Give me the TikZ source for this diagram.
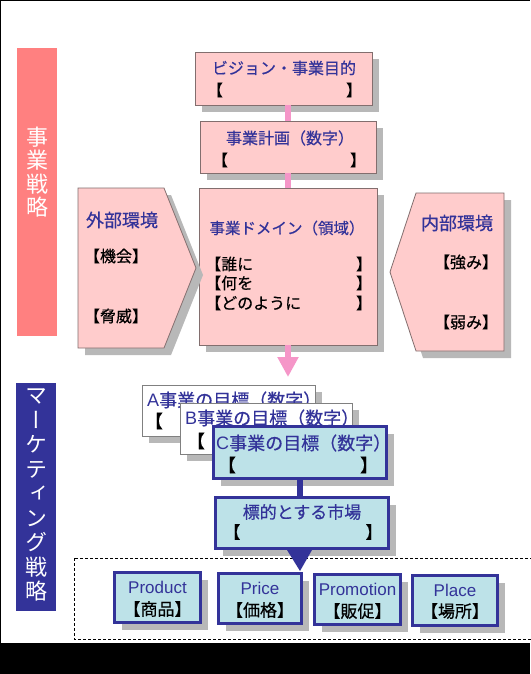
\documentclass[tikz,border=0pt]{standalone}
\usepackage{fontspec}
\setmainfont{Liberation Sans}
\newfontfamily\jp[FakeBold=0.5]{Noto Sans CJK JP}
\newfontfamily\jpv[RawFeature=+vert]{Noto Sans CJK JP}
\newfontfamily\latf{Liberation Sans}
\usetikzlibrary{shadows,arrows.meta}
\definecolor{pinkfill}{RGB}{255,204,204}
\definecolor{pinkline}{RGB}{130,110,110}
\definecolor{pinkbar}{RGB}{255,128,128}
\definecolor{pinkconn}{RGB}{245,150,200}
\definecolor{navy}{RGB}{51,51,153}
\definecolor{lightblue}{RGB}{189,226,232}
\definecolor{shadowgray}{RGB}{184,184,184}
\begin{document}
\begin{tikzpicture}[x=1pt,y=-1pt,
  shad/.style={drop shadow={shadow xshift=7pt,shadow yshift=-7pt,fill=shadowgray,opacity=1}},
  sz/.style 2 args={minimum width=#1pt,minimum height=#2pt},
  pinkbox/.style={shad,draw=pinkline,fill=pinkfill,line width=0.8pt,inner sep=0pt},
  pinkshape/.style={shad,draw=pinkline,fill=pinkfill,line width=0.8pt},
  whitebox/.style={shad,draw=gray,fill=white,line width=0.8pt,inner sep=0pt},
  bluebox/.style={shad,draw=navy,fill=lightblue,line width=3pt,inner sep=0pt},
  f15/.style={font=\jp\fontsize{15.5}{18}\selectfont},
  f16/.style={font=\jp\fontsize{16}{19}\selectfont},
  f17/.style={font=\jp\fontsize{17}{20}\selectfont},
  f18/.style={font=\jp\fontsize{18}{21}\selectfont},
  ttl/.style={inner sep=0pt,text=navy,f16},
  blk/.style={inner sep=0pt,text=black,f16},
  lat/.style={inner sep=0pt,text=navy,font=\latf\fontsize{17}{20}\selectfont},
  vtext/.style={inner sep=0pt,text=white,align=center},
  conn/.style={line width=5.5pt},
]
\useasboundingbox (0,0) rectangle (530,674);
\fill[white] (0,0) rectangle (530,674);

% side bars
\node[fill=pinkbar,inner sep=0pt,sz={40}{288}] (bar1) at (37,192) {};
\node[vtext,font=\jpv\fontsize{22}{23.5}\selectfont] (bar1t) at (37,172) {事\\業\\戦\\略};
\node[fill=navy,inner sep=0pt,sz={40}{228}] (bar2) at (36,497) {};
\node[vtext,font=\jpv\fontsize{22}{24.5}\selectfont] (bar2t) at (36,495) {マ\\ー\\ケ\\テ\\ィ\\ン\\グ\\戦\\略};

% vision
\node[pinkbox,sz={177}{53}] (vision) at (283.5,78.5) {};
\node[ttl] (visiont) at (284,68) {ビジョン・事業目的};
\node[blk] (visionl) at (215,90) {【};
\node[blk] (visionr) at (354,90) {】};

% plan
\node[pinkbox,sz={176}{52}] (plan) at (288,147) {};
\node[ttl] (plant) at (290,138) {事業計画（数字）};
\node[blk] (planl) at (220,160) {【};
\node[blk] (planr) at (358,160) {】};
\draw[pinkconn,conn] (plan.north) -- (plan.north |- vision.south);

% domain
\node[pinkbox,sz={178}{157}] (domain) at (288,266.5) {};
\draw[pinkconn,conn] (domain.north) -- (domain.north |- plan.south);
\node[ttl,f15] (domaint) at (287,228) {事業ドメイン（領域）};
\node[blk,anchor=west] (who) at (205,264) {【誰に};
\node[blk] (whor) at (364,264) {】};
\node[blk,anchor=west] (what) at (205,283) {【何を};
\node[blk] (whatr) at (364,283) {】};
\node[blk,anchor=west] (how) at (205,303) {【どのように};
\node[blk] (howr) at (364,303) {】};

% external
\draw[pinkshape] (78,188) -- (164,188) -- (196,268) -- (164,348) -- (78,348) -- cycle;
\node[ttl,f18] (ext) at (122,220) {外部環境};
\node[blk] (opp) at (116,256) {【機会】};
\node[blk] (thr) at (116,316) {【脅威】};

% internal
\draw[pinkshape] (416,193) -- (504,193) -- (504,351) -- (416,351) -- (390,272) -- cycle;
\node[ttl,f18] (int) at (457,223) {内部環境};
\node[blk] (str) at (466,262) {【強み】};
\node[blk] (weak) at (466,322) {【弱み】};

% pink arrow
\coordinate (ptip) at (288,377);
\draw[pinkconn,conn,-{Triangle[width=20pt,length=20pt]}] (domain.south) -- (ptip);

% A B C
\node[whitebox,sz={173}{51}] (boxA) at (228.5,410.5) {};
\node[ttl,f18,anchor=west] (boxAt) at (147,400) {{\latf A}事業の目標（数字）};
\node[blk,f18] (boxAl) at (154,421) {【};
\node[whitebox,sz={172}{51}] (boxB) at (266,428.5) {};
\node[ttl,f18,anchor=west] (boxBt) at (185,418) {{\latf B}事業の目標（数字）};
\node[blk,f18] (boxBl) at (196,441) {【};
\node[bluebox,sz={173}{52}] (boxC) at (300,452.5) {};
\node[ttl,f18,anchor=west] (boxCt) at (216,443) {{\latf C}事業の目標（数字）};
\node[blk,f18] (boxCl) at (227,465) {【};
\node[blk,f18] (boxCr) at (369,465) {】};

% dashed region
\draw[dash pattern=on 3pt off 2pt,line width=0.7pt] (74,558) rectangle (540,639);

% target
\node[bluebox,sz={173}{51}] (target) at (302,523) {};
\draw[navy,conn] (boxC.south) -- (boxC.south |- target.north);
\node[ttl,f17] (targett) at (302,512) {標的とする市場};
\node[blk,f17] (targetl) at (232,532) {【};
\node[blk,f17] (targetr) at (374,532) {】};

% 4P
\node[bluebox,sz={86}{50}] (product) at (157.5,597.5) {};
\node[lat] (productt) at (157.5,587) {Product};
\node[blk,f17] (productj) at (157.5,609) {【商品】};
\node[bluebox,sz={83}{50}] (price) at (260,598.5) {};
\node[lat] (pricet) at (260,588) {Price};
\node[blk,f17] (pricej) at (260,610) {【価格】};
\node[bluebox,sz={86}{50}] (promo) at (357.5,599.5) {};
\node[lat] (promot) at (357.5,589) {Promotion};
\node[blk,f17] (promoj) at (357.5,611) {【販促】};
\node[bluebox,sz={85}{50}] (place) at (455,600.5) {};
\node[lat] (placet) at (455,590) {Place};
\node[blk,f17] (placej) at (455,611) {【場所】};

% triangle from target to price
\coordinate (btip) at (300,571);
\fill[navy] ([xshift=-15pt]target.south) -- ([xshift=10pt]target.south) -- (btip) -- cycle;

% frame
\fill[black] (0,0) rectangle (530,1.5);
\fill[black] (0,0) rectangle (1.2,674);
\fill[black] (0,643) rectangle (530,674);
\end{tikzpicture}
\end{document}
